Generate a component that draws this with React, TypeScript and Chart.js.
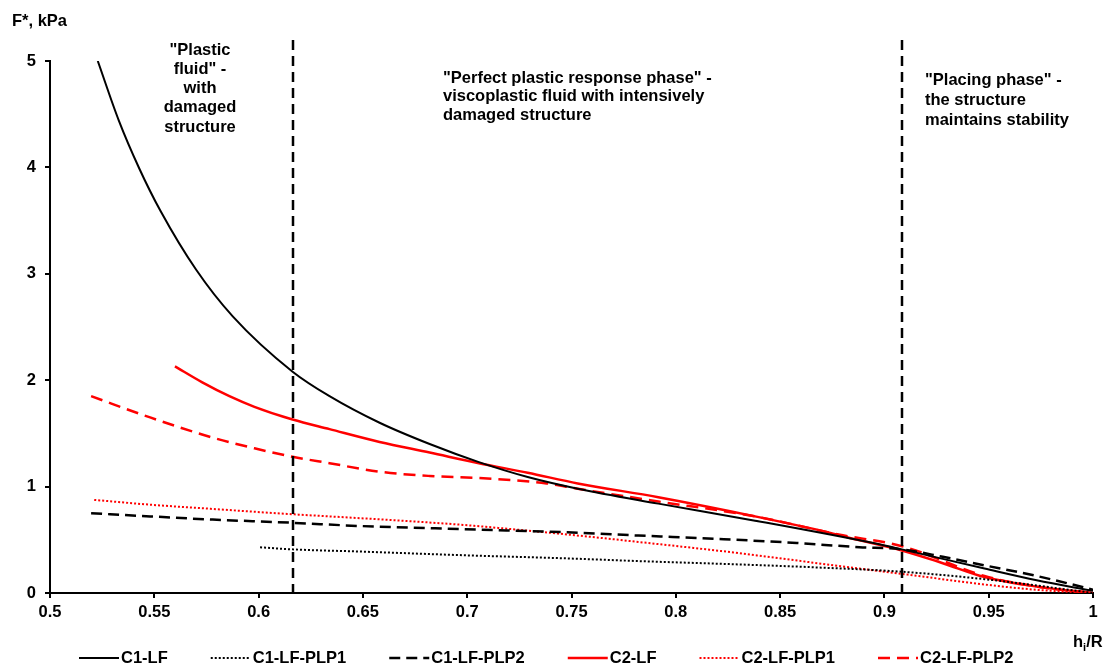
import React, { useEffect, useRef } from 'react';
import { Chart, registerables } from 'chart.js';

Chart.register(...registerables);

// ---- axis ticks ----
const xTicks = [0.5, 0.55, 0.6, 0.65, 0.7, 0.75, 0.8, 0.85, 0.9, 0.95, 1];
const yTicks = [0, 1, 2, 3, 4, 5];
const phaseBoundaries = [0.6163, 0.9084];

// ---- series ----
const seriesLabels = ['C1-LF', 'C1-LF-PLP1', 'C1-LF-PLP2', 'C2-LF', 'C2-LF-PLP1', 'C2-LF-PLP2'];

const c1lfX = [0.5229, 0.533, 0.5428, 0.553, 0.57, 0.5876, 0.6163, 0.634, 0.658, 0.682, 0.7056, 0.729, 0.753, 0.7916, 0.838, 0.897, 0.9084, 0.948, 0.973, 1.0];
const c1lfY = [5.0, 4.44, 3.99, 3.59, 3.04, 2.6, 2.08, 1.85, 1.6, 1.4, 1.23, 1.09, 0.98, 0.84, 0.68, 0.46, 0.41, 0.23, 0.12, 0.02];

const c1plp1X = [0.6007, 0.6163, 0.648, 0.698, 0.748, 0.782, 0.828, 0.868, 0.9084, 0.948, 0.973, 1.0];
const c1plp1Y = [0.43, 0.41, 0.39, 0.355, 0.325, 0.3, 0.27, 0.24, 0.2, 0.13, 0.07, 0.0];

const c1plp2X = [0.5197, 0.548, 0.578, 0.6163, 0.648, 0.698, 0.748, 0.782, 0.818, 0.858, 0.888, 0.9084, 0.928, 0.948, 0.973, 0.988, 1.0];
const c1plp2Y = [0.75, 0.72, 0.69, 0.66, 0.63, 0.6, 0.57, 0.54, 0.51, 0.47, 0.43, 0.41, 0.34, 0.26, 0.16, 0.09, 0.03];

const c2lfX = [0.5599, 0.573, 0.586, 0.598, 0.6163, 0.634, 0.658, 0.682, 0.7056, 0.729, 0.753, 0.7916, 0.838, 0.873, 0.883, 0.9084, 0.928, 0.948, 0.973, 1.0];
const c2lfY = [2.13, 1.98, 1.85, 1.75, 1.63, 1.54, 1.42, 1.32, 1.22, 1.13, 1.03, 0.9, 0.72, 0.57, 0.52, 0.4, 0.28, 0.15, 0.06, 0.0];

const c2plp1X = [0.5212, 0.548, 0.578, 0.6163, 0.634, 0.668, 0.698, 0.748, 0.782, 0.828, 0.868, 0.9084, 0.948, 0.973, 1.0];
const c2plp1Y = [0.875, 0.83, 0.79, 0.74, 0.72, 0.68, 0.64, 0.55, 0.48, 0.38, 0.28, 0.18, 0.08, 0.03, 0.0];

const c2plp2X = [0.5197, 0.548, 0.578, 0.598, 0.6163, 0.634, 0.658, 0.682, 0.7056, 0.738, 0.753, 0.7916, 0.838, 0.878, 0.9084, 0.948, 0.973, 1.0];
const c2plp2Y = [1.85, 1.65, 1.46, 1.36, 1.28, 1.22, 1.14, 1.1, 1.08, 1.03, 0.98, 0.86, 0.72, 0.55, 0.44, 0.16, 0.06, 0.0];

// ---- annotation texts ----
const notePlastic = ['"Plastic', 'fluid" -', 'with', 'damaged', 'structure'];
const notePerfect = ['"Perfect plastic response phase" -', 'viscoplastic fluid with intensively', 'damaged structure'];
const notePlacing = ['"Placing phase" -', 'the structure', 'maintains stability'];
const yTitle = 'F*, kPa';

const FAMILY = '"Liberation Sans", Arial, sans-serif';
const FS = 16.5;
const FONT = `bold ${FS}px ${FAMILY}`;

const zip = (xs: number[], ys: number[]) => xs.map((x, i) => ({ x, y: ys[i] }));

const styles = [
  { color: '#000000', width: 2, dash: [] as number[] },
  { color: '#000000', width: 2, dash: [2, 2] },
  { color: '#000000', width: 2.5, dash: [11, 6] },
  { color: '#ff0000', width: 2.5, dash: [] as number[] },
  { color: '#ff0000', width: 2, dash: [2, 2] },
  { color: '#ff0000', width: 2.5, dash: [12, 7] },
];

const overlayPlugin = {
  id: 'overlay',
  afterDatasetsDraw(chart: any) {
    const { ctx, chartArea, scales } = chart;
    const xs = scales.x;
    ctx.save();
    ctx.strokeStyle = '#000';
    ctx.lineWidth = 2.5;
    ctx.setLineDash([10, 6]);
    phaseBoundaries.forEach((v) => {
      const px = Math.round(xs.getPixelForValue(v));
      ctx.beginPath();
      ctx.moveTo(px, chartArea.top - 21);
      ctx.lineTo(px, chartArea.bottom);
      ctx.stroke();
    });
    ctx.restore();
  },
  afterDraw(chart: any) {
    const { ctx } = chart;
    ctx.save();
    ctx.fillStyle = '#000';
    ctx.font = FONT;
    ctx.textBaseline = 'middle';
    ctx.textAlign = 'center';
    notePlastic.forEach((t, i) => ctx.fillText(t, 200, 50 + i * 19.3));
    ctx.textAlign = 'left';
    notePerfect.forEach((t, i) => ctx.fillText(t, 443, 78 + i * 18.7));
    notePlacing.forEach((t, i) => ctx.fillText(t, 925, 80 + i * 20));
    ctx.fillText(yTitle, 12, 21);

    // x-axis title h_i/R
    ctx.textBaseline = 'alphabetic';
    let hx = 1073;
    ctx.fillText('h', hx, 647);
    hx += ctx.measureText('h').width;
    ctx.font = `bold 11px ${FAMILY}`;
    ctx.fillText('i', hx, 651);
    hx += ctx.measureText('i').width;
    ctx.font = FONT;
    ctx.fillText('/R', hx, 647);

    // legend
    ctx.textBaseline = 'middle';
    let lx = 79;
    const ly = 658;
    chart.data.datasets.forEach((ds: any, i: number) => {
      const st = styles[i];
      ctx.strokeStyle = st.color;
      ctx.lineWidth = st.width;
      ctx.setLineDash(st.dash);
      ctx.beginPath();
      ctx.moveTo(lx, ly);
      ctx.lineTo(lx + 40, ly);
      ctx.stroke();
      ctx.setLineDash([]);
      ctx.fillStyle = '#000';
      ctx.fillText(ds.label, lx + 42, ly);
      lx += 42 + ctx.measureText(ds.label).width + 43;
    });
    ctx.restore();
  },
};

export default function App() {
  const ref = useRef<HTMLCanvasElement | null>(null);
  useEffect(() => {
    if (!ref.current) return;
    const xsArr = [c1lfX, c1plp1X, c1plp2X, c2lfX, c2plp1X, c2plp2X];
    const ysArr = [c1lfY, c1plp1Y, c1plp2Y, c2lfY, c2plp1Y, c2plp2Y];
    const datasets = seriesLabels.map((label, i) => ({
      label,
      data: zip(xsArr[i], ysArr[i]),
      borderColor: styles[i].color,
      backgroundColor: styles[i].color,
      borderWidth: styles[i].width,
      borderDash: styles[i].dash,
      pointRadius: 0,
      cubicInterpolationMode: 'monotone' as const,
      fill: false,
    }));
    const tickFont = { family: FAMILY, size: FS, weight: 'bold' as const };
    const chart = new Chart(ref.current, {
      type: 'line',
      data: { datasets },
      options: {
        animation: false,
        responsive: false,
        devicePixelRatio: 1,
        layout: { padding: { top: 61, right: 14, left: 0, bottom: 0 } },
        plugins: { legend: { display: false }, tooltip: { enabled: false } },
        scales: {
          x: {
            type: 'linear',
            min: 0.5,
            max: 1,
            afterBuildTicks: (s: any) => { s.ticks = xTicks.map((v) => ({ value: v })); },
            afterFit: (s: any) => { s.height = 73; },
            ticks: { color: '#000', font: tickFont, padding: 5, maxRotation: 0, autoSkip: false, callback: (v: any) => String(v) },
            grid: { drawOnChartArea: false, drawTicks: true, tickLength: 5, color: '#000', lineWidth: 2 },
            border: { display: true, color: '#000', width: 2 },
          },
          y: {
            type: 'linear',
            min: 0,
            max: 5,
            afterBuildTicks: (s: any) => { s.ticks = yTicks.map((v) => ({ value: v })); },
            afterFit: (s: any) => { s.width = 50; },
            ticks: { color: '#000', font: tickFont, padding: 9, callback: (v: any) => String(v) },
            grid: { drawOnChartArea: false, drawTicks: true, tickLength: 5, color: '#000', lineWidth: 2 },
            border: { display: true, color: '#000', width: 2 },
          },
        },
      },
      plugins: [overlayPlugin],
    });
    return () => chart.destroy();
  }, []);
  return (
    <div style={{ position: 'absolute', left: 0, top: 0, width: 1107, height: 666, background: '#fff' }}>
      <canvas ref={ref} width={1107} height={666} style={{ display: 'block' }} />
    </div>
  );
}
